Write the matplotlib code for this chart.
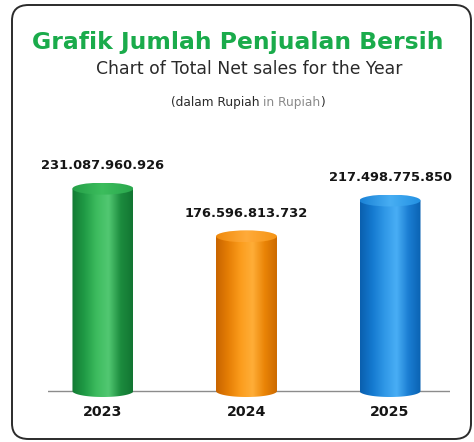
import matplotlib
matplotlib.use("Agg")
import matplotlib.pyplot as plt
import numpy as np
from matplotlib.colors import LinearSegmentedColormap
from matplotlib.patches import Ellipse, FancyBboxPatch, Polygon

years = ["2023", "2024", "2025"]
net_sales = [231087960926, 176596813732, 217498775850]
value_labels = ["231.087.960.926", "176.596.813.732", "217.498.775.850"]

# side shading (dark edge -> highlight -> dark edge) and cap colour for each cylinder
body_shades = [
    ["#137a33", "#1f9a45", "#3dbb5e", "#52c872", "#1c8c3e", "#127532"],
    ["#c86400", "#e57e05", "#fb9c1c", "#ffae38", "#ea8406", "#cc6a00"],
    ["#0a5fae", "#1479cf", "#2f97e6", "#49aef5", "#1a7dd2", "#0a62b2"],
]
cap_shades = [
    ["#25a048", "#3cbd5d", "#2aa74d"],
    ["#f08a0c", "#ffab3a", "#f59415"],
    ["#1a82d6", "#48aef3", "#2290e2"],
]

W, H, DPI = 474, 442, 100
fig = plt.figure(figsize=(W / DPI, H / DPI), dpi=DPI)
fig.patch.set_facecolor("white")


def px(x, y):
    return x / W, 1 - y / H


# rounded frame
frame = FancyBboxPatch(px(12, 439), (471 - 12) / W, (439 - 5) / H,
                       boxstyle="round,pad=0,rounding_size=0.035",
                       transform=fig.transFigure, facecolor="none",
                       edgecolor="#2b2b2b", linewidth=1.4, zorder=-1)
fig.patches.append(frame)

fig.text(*px(238, 42), "Grafik Jumlah Penjualan Bersih", ha="center", va="center",
         fontsize=16.9, fontweight="bold", color="#1aab4b")
fig.text(*px(249, 69), "Chart of Total Net sales for the Year", ha="center", va="center",
         fontsize=12.4, color="#2a2a2a")

# subtitle in two tones, laid out piece by piece
renderer = fig.canvas.get_renderer()
parts = [("(dalam Rupiah ", "#2a2a2a"), ("in Rupiah", "#8a8a8a"), (")", "#2a2a2a")]
texts = [fig.text(0, 1 - 102 / H, s, fontsize=8.7, color=c, va="center") for s, c in parts]
widths = [t.get_window_extent(renderer).width for t in texts]
x0 = 248 - sum(widths) / 2
for t, w in zip(texts, widths):
    t.set_x(x0 / W)
    x0 += w

# chart area: zero line at y=391 px, spanning x 48..450 px; a little room below for the rounded bottoms
ax_left, ax_right, ax_base, ax_top, ax_bottom = 48, 450, 391, 130, 402
ax = fig.add_axes([ax_left / W, (H - ax_bottom) / H,
                   (ax_right - ax_left) / W, (ax_bottom - ax_top) / H])
ax.set_autoscale_on(False)
xlim = (-0.383, 2.418)
ytop = 298e9
ppx = (ax_right - ax_left) / (xlim[1] - xlim[0])
ppy = (ax_base - ax_top) / ytop
ax.set_xlim(*xlim)
ax.set_ylim(-(ax_bottom - ax_base) / ppy, ytop)
ax.axis("off")

bar_w = 61 / ppx
ell_h = 12 / ppy

ax.axhline(0, color="#8c8c8c", linewidth=1.0, zorder=1)

grad = np.linspace(0, 1, 256).reshape(1, -1)
theta = np.linspace(np.pi, 2 * np.pi, 60)
for i, v in enumerate(net_sales):
    left, right = i - bar_w / 2, i + bar_w / 2
    # body outline: straight sides plus rounded bottom
    bx = np.concatenate([[left], i + bar_w / 2 * np.cos(theta), [right]])
    by = np.concatenate([[v], ell_h / 2 * np.sin(theta), [v]])
    body = Polygon(np.column_stack([bx, by]), closed=True, facecolor="none", edgecolor="none")
    ax.add_patch(body)
    cmap = LinearSegmentedColormap.from_list(f"body{i}", body_shades[i])
    im = ax.imshow(grad, cmap=cmap, aspect="auto", extent=[left, right, -ell_h, v],
                   interpolation="bicubic", zorder=2)
    im.set_clip_path(body)

    cap = Ellipse((i, v), bar_w, ell_h, facecolor="none", edgecolor="none")
    ax.add_patch(cap)
    ccmap = LinearSegmentedColormap.from_list(f"cap{i}", cap_shades[i])
    cim = ax.imshow(grad, cmap=ccmap, aspect="auto",
                    extent=[left, right, v - ell_h / 2, v + ell_h / 2],
                    interpolation="bicubic", zorder=3)
    cim.set_clip_path(cap)

    ax.annotate(value_labels[i], (i, v), xytext=(0, 23), textcoords="offset pixels",
                ha="center", va="center", fontsize=9.4, fontweight="bold",
                color="#151515", annotation_clip=False)
    ax.annotate(years[i], (i, 0), xytext=(0, -21), textcoords="offset pixels",
                ha="center", va="center", fontsize=10.2, fontweight="bold",
                color="#151515", annotation_clip=False)

fig.savefig("out.png", dpi=DPI)
